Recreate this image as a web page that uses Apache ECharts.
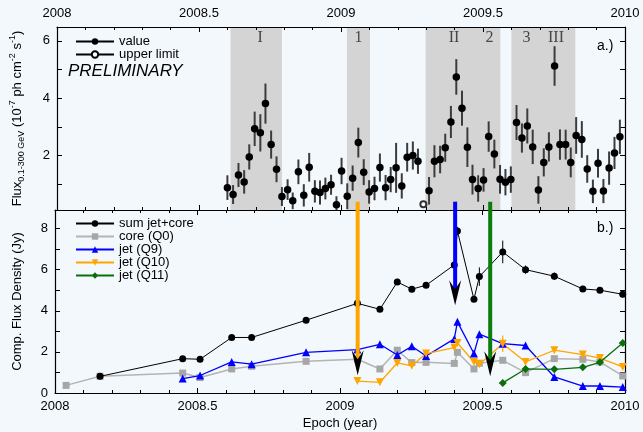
<!DOCTYPE html>
<html><head><meta charset="utf-8">
<script src="https://cdn.jsdelivr.net/npm/echarts@6/dist/echarts.min.js"></script>
<style>html,body{margin:0;padding:0;background:#f3f8fc}#c{width:643px;height:432px}</style>
</head><body><div id="c"></div>
<script>
// ---------- data: gamma-ray light curve (panel a) ----------
const fluxEpoch = [2008.600,2008.620,2008.639,2008.659,2008.677,2008.696,2008.716,2008.734,2008.754,2008.773,2008.792,2008.812,2008.830,2008.850,2008.869,2008.888,2008.908,2008.926,2008.945,2008.965,2008.984,2009.002,2009.022,2009.041,2009.061,2009.080,2009.099,2009.118,2009.137,2009.157,2009.175,2009.194,2009.214,2009.233,2009.253,2009.271,2009.310,2009.329,2009.349,2009.367,2009.387,2009.406,2009.426,2009.445,2009.463,2009.483,2009.502,2009.520,2009.540,2009.560,2009.579,2009.598,2009.618,2009.637,2009.656,2009.675,2009.695,2009.714,2009.732,2009.752,2009.771,2009.791,2009.809,2009.828,2009.848,2009.867,2009.887,2009.905,2009.924,2009.944,2009.963,2009.982];
const fluxValue = [0.88,0.64,1.32,1.08,1.95,2.93,2.79,3.81,2.38,1.52,0.57,0.81,0.42,1.43,0.61,1.59,0.75,0.71,0.85,0.98,0.28,1.46,0.58,1.21,2.45,1.42,0.73,0.85,1.58,0.88,1.16,1.57,0.94,1.94,2.00,1.80,0.77,1.80,1.86,2.27,3.17,4.74,3.65,2.29,1.16,0.85,1.15,2.66,2.05,1.17,1.07,1.16,3.15,2.61,3.03,2.30,0.80,1.76,2.30,5.12,2.38,2.38,1.76,2.70,2.56,1.53,0.75,1.73,0.76,1.56,2.09,2.65];
const fluxError = [0.43,0.33,0.42,0.41,0.44,0.60,0.65,0.70,0.49,0.45,0.33,0.36,0.29,0.43,0.39,0.50,0.39,0.42,0.38,0.35,0.30,0.46,0.45,0.44,0.52,0.45,0.41,0.41,0.49,0.44,0.44,0.87,0.44,0.50,0.49,0.44,0.48,0.56,0.48,0.49,0.56,0.62,0.61,0.69,0.52,0.46,0.41,0.53,0.50,0.50,0.46,0.46,0.61,0.51,0.61,0.60,0.48,0.49,0.51,0.69,0.53,0.52,0.52,0.64,0.64,0.48,0.41,0.50,0.42,0.58,0.56,0.60];
const upperLimitEpoch = [2009.290];
const upperLimitValue = [0.30];
const flareStart = [2008.611, 2009.021, 2009.298, 2009.600];
const flareEnd   = [2008.792, 2009.102, 2009.561, 2009.825];
const flareLabelText  = ['I','1','II','2','3','III'];
const flareLabelEpoch = [2008.715, 2009.062, 2009.398, 2009.523, 2009.653, 2009.757];

// ---------- data: VLBI component flux densities (panel b) ----------
const vlbiEpoch  = [2008.039,2008.158,2008.448,2008.509,2008.620,2008.690,2008.881,2009.061,2009.140,2009.201,2009.252,2009.302,2009.401,2009.412,2009.470,2009.489,2009.571,2009.651,2009.752,2009.852,2009.912,2009.992];
const sumJetCore = [null,0.81,1.67,1.64,2.70,2.70,3.54,4.36,4.07,5.40,5.05,5.24,6.23,7.88,4.56,5.66,6.86,6.00,5.68,5.06,5.00,4.80];
const sumError   = [0,0.08,0.10,0.10,0.10,0.10,0.12,0.15,0.12,0.15,0.12,0.12,0.15,0.20,0.12,0.45,0.55,0.20,0.18,0.15,0.12,0.15];
const coreQ0 = [0.37,0.81,0.97,0.75,1.17,1.30,1.54,1.64,1.17,2.08,1.48,1.49,1.44,1.98,1.17,1.45,1.59,0.99,1.67,1.64,1.51,0.83];
const jetQ9  = [null,null,0.70,0.85,1.51,1.40,1.98,2.11,2.37,1.85,2.27,1.80,2.63,3.46,1.92,2.86,2.40,2.31,0.78,0.34,0.34,0.29];
const jetQ10 = [null,null,null,null,null,null,null,0.58,0.52,1.46,1.32,1.92,2.21,2.43,1.51,1.40,2.40,1.51,2.08,1.87,1.70,1.27];
const jetQ10Error = [0,0,0,0,0,0,0,0,0,0,0,0,0,0,0,0,0.40,0,0,0,0,0];
const jetQ11 = [null,null,null,null,null,null,null,null,null,null,null,null,null,null,null,null,0.49,1.17,1.15,1.25,1.49,2.43];
// component ejection epochs (arrows) and arrow tip levels (Jy)
const ejectionEpoch = [2009.062, 2009.404, 2009.527];
const ejectionTip   = [0.86, 4.27, 0.81];
const ejectionStartFlux = 0.39;

const seriesNames = ['sum jet+core','core (Q0)','jet (Q9)','jet (Q10)','jet (Q11)'];

// ---------- chart ----------
const FONT = 'Liberation Sans';
const chart = echarts.init(document.getElementById('c'), null, {renderer:'canvas'});
const pairs = (xs, ys) => xs.map((x,i)=>[x, ys[i]]).filter(p => p[1] !== null);
const errData = (xs, ys, es) => xs.map((x,i)=>[x, ys[i]===null?0:ys[i]-es[i], ys[i]===null?0:ys[i]+es[i], es[i]]).filter(p=>p[3]>0);

function xAxisDef(grid, pos, labels, extra) {
  return Object.assign({
    type:'value', gridIndex:grid, position:pos, min:2008, max:2010, interval:0.5,
    axisLine:{show:true, onZero:false, lineStyle:{color:'#000', width:1.2}},
    axisTick:{show:true, inside:true, length:5, lineStyle:{color:'#000'}},
    minorTick:{show:true, splitNumber:5, length:3, lineStyle:{color:'#000'}},
    splitLine:{show:false},
    axisLabel:{show:labels, margin:7, color:'#000', fontFamily:FONT, fontSize:13, formatter:v=>String(+v.toFixed(1))}
  }, extra||{});
}
function yAxisDef(grid, pos, labels, scale, extra) {
  return Object.assign({
    type:'value', gridIndex:grid, position:pos,
    axisLine:{show:true, onZero:false, lineStyle:{color:'#000', width:1.2}},
    axisTick:{show:true, inside:true, length:5, lineStyle:{color:'#000'}},
    splitLine:{show:false},
    axisLabel:{show:labels, margin:7, color:'#000', fontFamily:FONT, fontSize:13, showMinLabel:true, showMaxLabel:true,
      formatter:v=>{const r=Math.round(v); return (Math.abs(v-r)<1e-6 && r%2===0) ? String(r) : '';}}
  }, scale, extra||{});
}

function errorBarSeries(xi, yi, data, color, width) {
  return {
    type:'custom', xAxisIndex:xi, yAxisIndex:yi, data:data, encode:{x:0, y:[1,2]}, clip:true, silent:true, z:2,
    renderItem:(params, api)=>{
      const a = api.coord([api.value(0), api.value(1)]);
      const b = api.coord([api.value(0), api.value(2)]);
      return {type:'line', shape:{x1:a[0], y1:a[1], x2:b[0], y2:b[1]}, style:{stroke:color, lineWidth:width}};
    }
  };
}

const downTri = 'path://M0,0 L10,0 L5,9 Z';

const option = {
  animation:false,
  backgroundColor:'#f3f8fc',
  textStyle:{fontFamily:FONT},
  grid:[
    {left:55, right:18, top:27, height:183},
    {left:55, right:18, top:210, height:183}
  ],
  xAxis:[
    xAxisDef(0,'top',true),
    xAxisDef(0,'bottom',false),
    xAxisDef(1,'bottom',true,{name:'Epoch (year)', nameLocation:'middle', nameGap:24,
      nameTextStyle:{color:'#000', fontFamily:FONT, fontSize:13}}),
    xAxisDef(1,'top',false)
  ],
  yAxis:[
    yAxisDef(0,'left',true,{min:0.1, max:6.48, splitNumber:6},{
      name:'{a|Flux}{s|0.1-300 GeV}{a| (10}{p|-7}{a| ph cm}{p|-2}{a| s}{p|-1}{a|)}',
      nameLocation:'middle', nameGap:31, nameRotate:90,
      nameTextStyle:{color:'#000', fontFamily:FONT, fontSize:13, rich:{
        a:{fontSize:13, lineHeight:18, fontFamily:FONT, color:'#000'},
        s:{fontSize:9, lineHeight:9, verticalAlign:'bottom', fontFamily:FONT, color:'#000'},
        p:{fontSize:9, lineHeight:9, verticalAlign:'top', fontFamily:FONT, color:'#000'}
      }}
    }),
    yAxisDef(0,'right',false,{min:0.1, max:6.48, splitNumber:6}),
    yAxisDef(1,'left',true,{min:0, max:8.9, interval:1},{
      name:'Comp. Flux Density (Jy)', nameLocation:'middle', nameGap:31, nameRotate:90,
      nameTextStyle:{color:'#000', fontFamily:FONT, fontSize:13}
    }),
    yAxisDef(1,'right',false,{min:0, max:8.9, interval:1})
  ],
  legend:[
    {data:['value','upper limit'], orient:'vertical', left:70, top:30, itemWidth:38, itemHeight:8, itemGap:0,
     textStyle:{fontFamily:FONT, fontSize:13, color:'#000', lineHeight:12}, selectedMode:false},
    {data:seriesNames, orient:'vertical', left:70, top:212, itemWidth:38, itemHeight:8, itemGap:0,
     textStyle:{fontFamily:FONT, fontSize:13, color:'#000', lineHeight:13}, selectedMode:false}
  ],
  graphic:[
    {id:'prelim', type:'text', left:68, top:63, z:10, style:{text:'PRELIMINARY', font:'italic 17px "Liberation Sans"', fill:'#000'}},
    {id:'pa', type:'text', left:597, top:39, z:10, style:{text:'a.)', font:'14px "Liberation Sans"', fill:'#000'}},
    {id:'pb', type:'text', left:597, top:221, z:10, style:{text:'b.)', font:'14px "Liberation Sans"', fill:'#000'}}
  ],
  series:[
    // flare periods (shaded)
    {type:'custom', xAxisIndex:0, yAxisIndex:0, silent:true, z:0, clip:true,
     data:flareStart.map((s,i)=>[s, flareEnd[i]]), encode:{x:[0,1]},
     renderItem:(params, api)=>{
       const cs = params.coordSys;
       const x1 = api.coord([api.value(0), 1])[0], x2 = api.coord([api.value(1), 1])[0];
       return {type:'rect', shape:{x:x1, y:cs.y, width:x2-x1, height:cs.height}, style:{fill:'#d4d4d4'}};
     }},
    {type:'scatter', xAxisIndex:0, yAxisIndex:0, symbolSize:0, silent:true, z:3,
     data:flareLabelText.map((t,i)=>({name:t, value:[flareLabelEpoch[i], 6.1]})),
     label:{show:true, position:'inside', formatter:'{b}', color:'#222', fontFamily:'Liberation Serif', fontSize:16}},
    errorBarSeries(0,0, errData(fluxEpoch, fluxValue, fluxError), '#3c3c3c', 2),
    {type:'scatter', name:'fluxPoints', xAxisIndex:0, yAxisIndex:0, symbol:'circle', symbolSize:7.5, z:4,
     itemStyle:{color:'#000', opacity:1}, data:pairs(fluxEpoch, fluxValue)},
    {type:'scatter', name:'ulPoints', xAxisIndex:0, yAxisIndex:0, symbol:'emptyCircle', symbolSize:6, z:4,
     itemStyle:{color:'#000', borderColor:'#000', borderWidth:1}, data:pairs(upperLimitEpoch, upperLimitValue)},
    // legend-only entries for panel a
    {type:'line', name:'value', xAxisIndex:0, yAxisIndex:0, data:[], symbol:'circle', symbolSize:7,
     itemStyle:{color:'#000'}, lineStyle:{color:'#000', width:1}},
    {type:'line', name:'upper limit', xAxisIndex:0, yAxisIndex:0, data:[], symbol:'emptyCircle', symbolSize:6,
     itemStyle:{color:'#000', borderColor:'#000', borderWidth:1}, lineStyle:{color:'#000', width:1}},
    // panel b
    errorBarSeries(2,2, errData(vlbiEpoch, sumJetCore, sumError), '#000', 1),
    errorBarSeries(2,2, errData(vlbiEpoch, jetQ10, jetQ10Error), '#ffa500', 1.2),
    {type:'line', name:seriesNames[1], xAxisIndex:2, yAxisIndex:2, data:pairs(vlbiEpoch, coreQ0), z:3,
     symbol:'rect', symbolSize:7, itemStyle:{color:'#a6a6a6'}, lineStyle:{color:'#b4b4b4', width:1.5}},
    {type:'line', name:seriesNames[2], xAxisIndex:2, yAxisIndex:2, data:pairs(vlbiEpoch, jetQ9), z:4,
     symbol:'triangle', symbolSize:8, itemStyle:{color:'#0000ff'}, lineStyle:{color:'#0000ff', width:1.3}},
    {type:'line', name:seriesNames[3], xAxisIndex:2, yAxisIndex:2, data:pairs(vlbiEpoch, jetQ10), z:4,
     symbol:downTri, symbolSize:8, itemStyle:{color:'#ffa500'}, lineStyle:{color:'#ffa500', width:1.3}},
    {type:'line', name:seriesNames[4], xAxisIndex:2, yAxisIndex:2, data:pairs(vlbiEpoch, jetQ11), z:4,
     symbol:'diamond', symbolSize:8, itemStyle:{color:'#0b6e0b'}, lineStyle:{color:'#0b6e0b', width:1.3}},
    {type:'line', name:seriesNames[0], xAxisIndex:2, yAxisIndex:2, data:pairs(vlbiEpoch, sumJetCore), z:5,
     symbol:'circle', symbolSize:7, itemStyle:{color:'#000'}, lineStyle:{color:'#000', width:1}}
  ]
};
chart.setOption(option);

// ejection arrows, positioned through the axes
const arrowColors = ['#ffa500', '#0000ff', '#0a7d0a'];
const arrowGraphics = [];
ejectionEpoch.forEach((ep, i)=>{
  const top = chart.convertToPixel({xAxisIndex:0, yAxisIndex:0}, [ep, ejectionStartFlux]);
  const tip = chart.convertToPixel({xAxisIndex:2, yAxisIndex:2}, [ep, ejectionTip[i]]);
  const x = tip[0], ty = tip[1];
  arrowGraphics.push({id:'shaft'+i, type:'line', z:20, shape:{x1:x, y1:top[1], x2:x, y2:ty-14},
    style:{stroke:arrowColors[i], lineWidth:4}});
  arrowGraphics.push({id:'head'+i, type:'polygon', z:21,
    shape:{points:[[x, ty], [x-6, ty-25], [x, ty-16], [x+6, ty-25]]}, style:{fill:'#000'}});
});
chart.setOption({graphic:arrowGraphics});
</script>
</body></html>
